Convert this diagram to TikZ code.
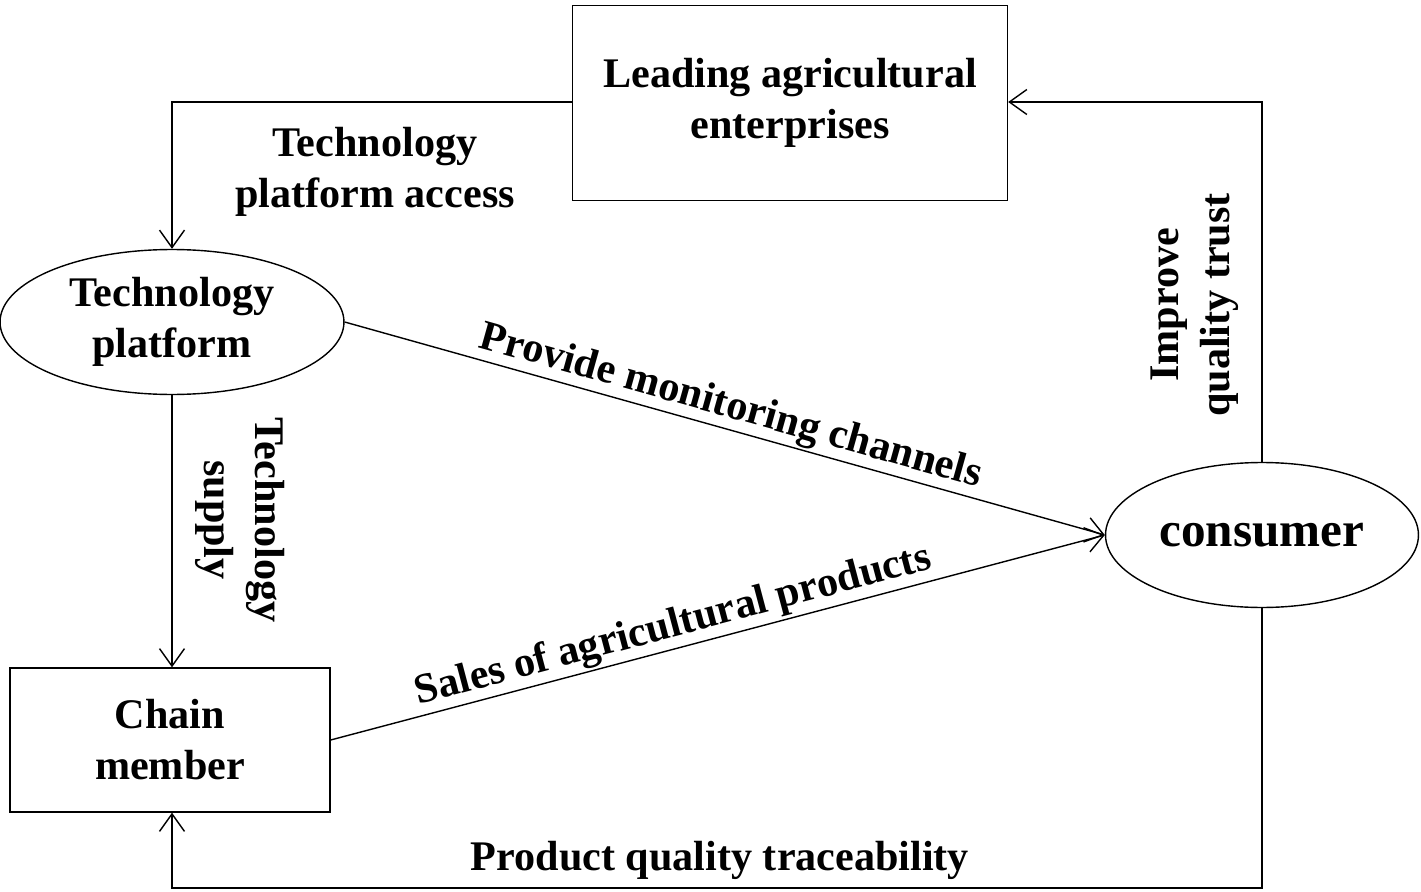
\documentclass[tikz,border=0pt]{standalone}
\usepackage{fontspec}
\setmainfont{Liberation Serif}
\usetikzlibrary{arrows.meta,positioning,shapes.geometric}
\tikzset{
    box/.style={draw, thick, align=center, font=\fontsize{24}{29}\selectfont\bfseries},
    oval/.style={draw, thick, ellipse, align=center, font=\fontsize{24}{29}\selectfont\bfseries},
    lbl/.style={align=center, font=\fontsize{24}{29}\selectfont\bfseries},
    flow/.style={thick, -{Straight Barb[length=3.5mm,width=5mm]}}
}
\begin{document}
\begin{tikzpicture}[x=0.02cm,y=-0.02cm]
\useasboundingbox (0,0) rectangle (1421,892);
% nodes
\node[box, minimum width=8.7cm, minimum height=3.9cm] (lead) at (790,103) {Leading agricultural\\enterprises};
\node[oval, minimum width=6.88cm, minimum height=2.9cm, inner sep=0pt] (tech) at (172,322) {Technology\\platform};
\node[oval, minimum width=6.26cm, minimum height=2.9cm, inner sep=0pt, font=\fontsize{28}{32}\selectfont\bfseries] (cons) at (1262,535) {consumer};
\node[box, minimum width=6.4cm, minimum height=2.88cm] (chain) at (170,740) {Chain\\member};
\coordinate (c1) at (172,102);
\coordinate (c2) at (1262,102);
\coordinate (c3) at (1262,888);
\coordinate (c4) at (172,888);
% connectors
\draw[flow] (lead.west |- c1) -- (c1) -- (tech.north);
\draw[flow] (cons.north) -- (c2) -- (lead.east |- c2);
\draw[flow] (tech.south) -- (chain.north -| tech.south);
\draw[flow] (cons.south) -- (c3) -- (c4) -- (chain.south -| c4);
\draw[flow] (tech.east) -- (cons.west) node[lbl, pos=0.5, above, sloped, inner sep=1pt] {Provide monitoring channels};
\draw[flow] (chain.east) -- (cons.west) node[lbl, pos=0.45, above, sloped, inner sep=1pt] {Sales of agricultural products};
% labels
\node[lbl] at (375,172) {Technology\\platform access};
\node[lbl, rotate=-90] at (240,520) {Technology\\supply};
\node[lbl, rotate=90] at (1195,305) {Improve\\quality trust};
\node[lbl] at (720,860) {Product quality traceability};
\end{tikzpicture}
\end{document}
